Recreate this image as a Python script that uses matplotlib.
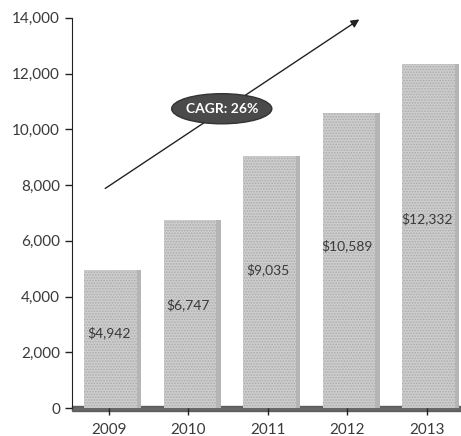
import numpy as np
import matplotlib.pyplot as plt
from matplotlib.patches import Ellipse

# revenue per year
years = ["2009", "2010", "2011", "2012", "2013"]
revenue = [4942, 6747, 9035, 10589, 12332]
value_labels = ["$4,942", "$6,747", "$9,035", "$10,589", "$12,332"]
y_ticks = [0, 2000, 4000, 6000, 8000, 10000, 12000, 14000]
cagr_text = "CAGR: 26%"

text_color = "#3a3a3a"
bar_color = "#cdcdcd"
floor_color = "#4e4e4e"

plt.rcParams["font.family"] = ["Lato", "DejaVu Sans"]
plt.rcParams["hatch.linewidth"] = 0.8

fig = plt.figure(figsize=(4.61, 4.36), dpi=100, facecolor="white")
ax = fig.add_axes([0.156, 0.064, 0.844, 0.895])

x = np.arange(len(years))
# main bar body with a stippled fill
ax.bar(x + 0.05, revenue, width=0.72, color=bar_color, edgecolor="#acacac",
       linewidth=0.0, hatch="......", zorder=2)
# darker right side gives the bars a little depth
ax.bar(x + 0.05 + 0.33, revenue, width=0.06, color="#b5b5b5", linewidth=0,
       zorder=2.1)

# dark floor strip along the baseline
ax.axhspan(-110, 90, color=floor_color, alpha=0.85, zorder=1.5, clip_on=False)

for xi, val, lab in zip(x, revenue, value_labels):
    ax.text(xi, val * 0.55, lab, ha="center", va="center", fontsize=10,
            color=text_color, zorder=3)

# growth arrow
ax.annotate("", xy=(3.18, 14000), xytext=(-0.075, 7825),
            arrowprops=dict(arrowstyle="-|>", color="#222222", lw=1.0,
                            mutation_scale=12), zorder=4)

# CAGR badge
ell = Ellipse((1.42, 10740), width=1.26, height=1080, facecolor="#4a4a4a",
              edgecolor="#333333", zorder=5)
ax.add_patch(ell)
ax.text(1.42, 10740, cagr_text, ha="center", va="center", fontsize=10,
        fontweight="bold", color="white", zorder=6)

ax.set_xlim(-0.465, 4.43)
ax.set_ylim(0, 14000)
ax.set_xticks(x)
ax.set_xticklabels(years)
ax.set_yticks(y_ticks)
ax.set_yticklabels([f"{t:,}" for t in y_ticks])
ax.tick_params(axis="both", colors="#222222", labelcolor=text_color, labelsize=11,
               length=5, width=1)
ax.tick_params(axis="x", pad=6)

for side in ["top", "right"]:
    ax.spines[side].set_visible(False)
ax.spines["left"].set_color("#222222")
ax.spines["bottom"].set_visible(False)

fig.savefig("out.png", dpi=100)
